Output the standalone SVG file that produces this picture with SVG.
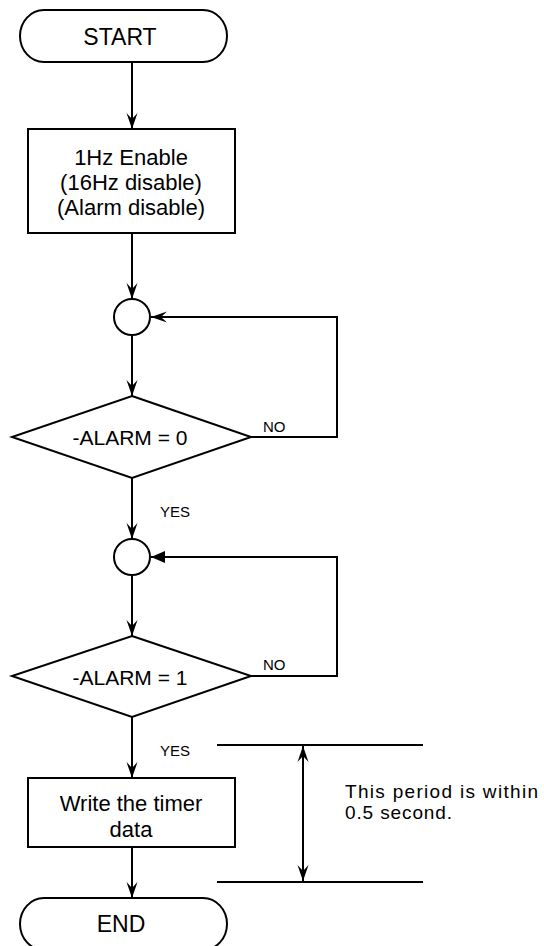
<svg xmlns="http://www.w3.org/2000/svg" width="544" height="946" viewBox="0 0 544 946">
<style>
  .shape{fill:#fff;stroke:#000;stroke-width:2}
  .ln{fill:none;stroke:#000;stroke-width:2}
  text{font-family:"Liberation Sans",Arial,sans-serif;fill:#000}
  .t{font-size:22px;text-anchor:middle}
  .d{font-size:21px;text-anchor:middle}
  .big{font-size:23px;text-anchor:middle}
  .lbl{font-size:15px}
  .note{font-size:19px}
</style>
<defs>
  <marker id="ah" viewBox="-17 -6 18 12" refX="0" refY="0" markerWidth="18" markerHeight="12" markerUnits="userSpaceOnUse" orient="auto-start-reverse">
    <path d="M0,0 L-16,-5.5 L-10,0 L-16,5.5 Z" fill="#000"/>
  </marker>
  <marker id="tri" viewBox="-15 -7 16 14" refX="0" refY="0" markerWidth="16" markerHeight="14" markerUnits="userSpaceOnUse" orient="auto">
    <path d="M0,0 L-14,-6 L-14,6 Z" fill="#000"/>
  </marker>
</defs>

<g id="connectors">
  <line class="ln" x1="132" y1="62" x2="132" y2="129" marker-end="url(#ah)"/>
  <line class="ln" x1="132" y1="233" x2="132" y2="299" marker-end="url(#ah)"/>
  <line class="ln" x1="132" y1="335" x2="132" y2="396" marker-end="url(#ah)"/>
  <path class="ln" d="M251,437 H337 V317 H151" marker-end="url(#ah)"/>
  <line class="ln" x1="132" y1="478" x2="132" y2="539" marker-end="url(#ah)"/>
  <line class="ln" x1="132" y1="575" x2="132" y2="636" marker-end="url(#ah)"/>
  <path class="ln" d="M251,676 H337 V557 H151" marker-end="url(#tri)"/>
  <line class="ln" x1="132" y1="717" x2="132" y2="778" marker-end="url(#ah)"/>
  <line class="ln" x1="132" y1="847" x2="132" y2="898" marker-end="url(#ah)"/>
  <line class="ln" x1="217" y1="745" x2="423" y2="745"/>
  <line class="ln" x1="217" y1="882" x2="423" y2="882"/>
  <line class="ln" x1="303" y1="746" x2="303" y2="881" marker-start="url(#ah)" marker-end="url(#ah)"/>
</g>

<g id="start">
  <path class="shape" d="M44,10 H203 A24,26 0 0 1 203,62 H44 A24,26 0 0 1 44,10 Z"/>
  <text class="big" x="120" y="45">START</text>
</g>

<g id="enable">
  <rect class="shape" x="28" y="129" width="207" height="104"/>
  <text class="t" x="131" y="165">1Hz Enable</text>
  <text class="t" x="131" y="190">(16Hz disable)</text>
  <text class="t" x="131" y="215">(Alarm disable)</text>
</g>

<g id="junction1">
  <circle class="shape" cx="132" cy="317" r="18"/>
</g>

<g id="decision1">
  <polygon class="shape" points="132,396 251,437 132,478 12,437"/>
  <text class="d" x="130" y="445">-ALARM = 0</text>
  <text class="lbl" x="263" y="432">NO</text>
  <text class="lbl" x="160" y="517">YES</text>
</g>

<g id="junction2">
  <circle class="shape" cx="132" cy="557" r="18"/>
</g>

<g id="decision2">
  <polygon class="shape" points="132,636 251,676 132,717 12,676"/>
  <text class="d" x="130" y="685">-ALARM = 1</text>
  <text class="lbl" x="263" y="670">NO</text>
  <text class="lbl" x="160" y="756">YES</text>
</g>

<g id="write">
  <rect class="shape" x="28" y="778" width="207" height="69"/>
  <text class="t" x="131" y="811">Write the timer</text>
  <text class="t" x="131" y="837">data</text>
</g>

<g id="end">
  <path class="shape" d="M44,898 H203 A24,26 0 0 1 203,950 H44 A24,26 0 0 1 44,898 Z"/>
  <text class="big" x="121" y="932">END</text>
</g>

<g id="note">
  <text class="note" x="345" y="797.5" textLength="193" lengthAdjust="spacing">This period is within</text>
  <text class="note" x="345" y="819" textLength="107" lengthAdjust="spacing">0.5 second.</text>
</g>
</svg>
